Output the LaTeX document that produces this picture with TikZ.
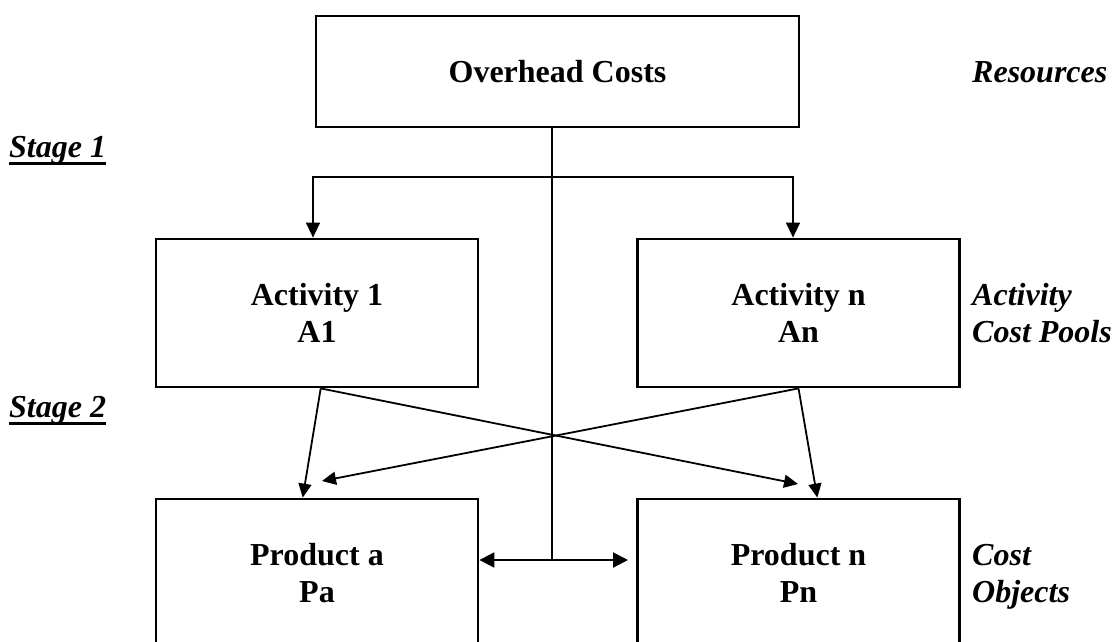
\documentclass[tikz,border=0pt]{standalone}
\usepackage{fontspec}
\setmainfont{Liberation Serif}
\usetikzlibrary{arrows.meta}
\begin{document}
\begin{tikzpicture}[x=1pt,y=-1pt,
  box/.style={draw, line width=2.8pt, inner sep=0pt, align=center,
    minimum width=322pt, minimum height=148pt,
    font=\fontsize{32}{36.7}\selectfont\bfseries},
  side/.style={anchor=base west, inner sep=0pt,
    font=\fontsize{32}{36.7}\selectfont\bfseries\itshape},
  trunkline/.style={line width=2pt},
  branch/.style={line width=1.5pt, -{Triangle[length=15pt,width=14pt]}},
  diag/.style={line width=1.8pt, -{Triangle[length=14pt,width=13pt]}},
  dbl/.style={line width=2pt, {Triangle[length=15pt,width=15pt]}-{Triangle[length=15pt,width=15pt]}},
  uline/.style={line width=3pt}]
\useasboundingbox (0,0) rectangle (1115,641);

% boxes
\node[box, minimum width=483pt, minimum height=111pt] (ov) at (557.5,71.5) {Overhead Costs};
\node[box] (a1) at (317,313) {Activity 1\\A1};
\node[box] (an) at (798.5,313) {Activity n\\An};
\node[box] (pa) at (317,573) {Product a\\Pa};
\node[box] (pn) at (798.5,573) {Product n\\Pn};

% side labels
\node[side] (res) at (972,82) {Resources};
\node[side] (acp1) at (972,305) {Activity};
\node[side] (acp2) at (972,342) {Cost Pools};
\node[side] (co1) at (972,565) {Cost};
\node[side] (co2) at (972,602) {Objects};
\node[side] (s1) at (9,157) {Stage 1};
\node[side] (s2) at (9,417) {Stage 2};
\draw[uline] ([yshift=-6pt]s1.base west) -- ([yshift=-6pt]s1.base east);
\draw[uline] ([yshift=-6pt]s2.base west) -- ([yshift=-6pt]s2.base east);

% connectors
\coordinate (trunk) at (552,560);
\coordinate (j1) at (552,177);
\coordinate (tipN) at (798,484);
\coordinate (tipA) at (322,481);
\coordinate (dr) at (628,560);

\draw[trunkline] (ov.south -| trunk) -- (trunk);
\draw[branch] (j1) -| ([xshift=-4pt]a1.north);
\draw[branch] (j1) -| ([xshift=-5.5pt]an.north);

\draw[diag] ([xshift=3.7pt]a1.south) -- ([xshift=-14.3pt]pa.north);
\draw[diag] ([xshift=3.7pt]a1.south) -- (tipN);
\draw[diag] (an.south) -- ([xshift=18.8pt]pn.north);
\draw[diag] (an.south) -- (tipA);

\draw[dbl] (pa.east |- trunk) -- (dr);
\end{tikzpicture}
\end{document}
